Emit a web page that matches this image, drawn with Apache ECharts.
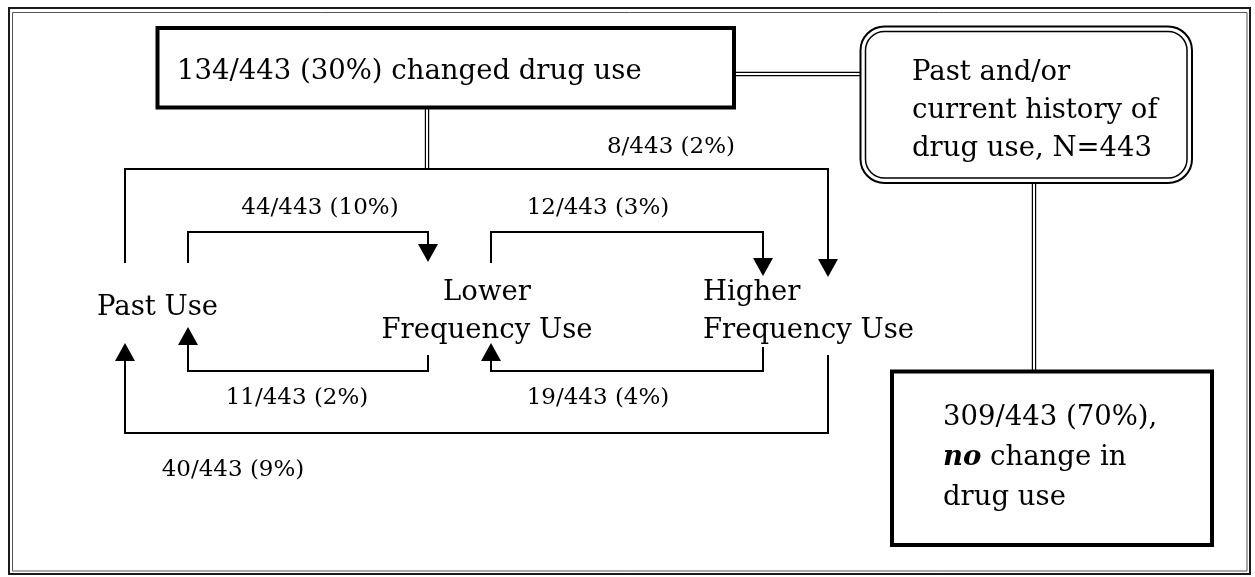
<!DOCTYPE html>
<html>
<head>
<meta charset="utf-8">
<title>Changes in drug use</title>
<script src="https://cdn.jsdelivr.net/npm/echarts@6/dist/echarts.min.js"></script>
<style>
  html, body { margin: 0; padding: 0; background: #fff; }
  #flow { width: 1255px; height: 577px; }
</style>
</head>
<body>
<div id="flow"></div>
<script>
// values
const totalN = 443;
const outcomeNames = ['changed drug use', 'no change in drug use'];
const outcomeCounts = [134, 309];
const outcomePcts = [30, 70];
const stateNames = ['Past Use', 'Lower\nFrequency Use', 'Higher\nFrequency Use'];
const flowFrom = [0, 1, 1, 2, 0, 2];
const flowTo = [1, 2, 0, 1, 2, 0];
const flowCounts = [44, 12, 11, 19, 8, 40];
const flowPcts = [10, 3, 2, 4, 2, 9];

// layout, in axis units (1 unit = 1 px of the page)
const flowPaths = [
  [[188, 263], [188, 232], [428, 232], [428, 262]],
  [[491, 263], [491, 232], [763, 232], [763, 276]],
  [[428, 355], [428, 371], [188, 371], [188, 327]],
  [[763, 347], [763, 371], [491, 371], [491, 343]],
  [[125, 263], [125, 169], [828, 169], [828, 277]],
  [[828, 355], [828, 433], [125, 433], [125, 343]]
];
const flowLabelAt = [[320, 208.5], [598, 208.5], [297, 398], [598, 398], [671, 147], [233, 470]];
const stateAt = [[97, 307.5, 'left'], [487, 292.5, 'center'], [703, 292.5, 'left']];
const boxes = [
  [157.5, 28, 734, 107.5],   // changed
  [892, 371.5, 1212, 545],   // no change
  [860.5, 26.5, 1192, 183]   // whole sample (rounded)
];
const doubleLinks = [
  [[734, 74], [860, 74]],
  [[427, 108], [427, 169]],
  [[1034, 183], [1034, 371.5]]
];

const FONT = 'DejaVu Serif';
const BIG = 27.5, SMALL = 23, LINE = 38;

const frac = (n, p) => n + '/' + totalN + ' (' + p + '%)';

// text lines: [x, y, text, align, size, rich]
const texts = [];
texts.push([177, 71.5, frac(outcomeCounts[0], outcomePcts[0]) + ' ' + outcomeNames[0], 'left', BIG]);
['Past and/or', 'current history of', 'drug use, N=' + totalN].forEach((t, k) => {
  texts.push([912, 72.5 + k * LINE, t, 'left', BIG]);
});
texts.push([943, 417.5, frac(outcomeCounts[1], outcomePcts[1]) + ',', 'left', BIG]);
texts.push([943, 457.5, '{b|no} change in', 'left', BIG, true]);
texts.push([943, 497.5, 'drug use', 'left', BIG]);
stateNames.forEach((name, s) => {
  name.split('\n').forEach((t, k) => {
    texts.push([stateAt[s][0], stateAt[s][1] + k * LINE, t, stateAt[s][2], BIG]);
  });
});
// put the single-line state on the right row
texts.forEach(t => { if (t[2] === 'Past Use') t[1] = 307.5; });

function rectOf(api, b) {
  const a = api.coord([b[0], b[1]]);
  const c = api.coord([b[2], b[3]]);
  return { x: a[0], y: a[1], width: c[0] - a[0], height: c[1] - a[1] };
}

function renderFrame(params, api) {
  const outer = rectOf(api, [9, 8, 1250, 574]);
  const inner = rectOf(api, [12.5, 12.5, 1247, 571]);
  return {
    type: 'group',
    children: [
      { type: 'rect', shape: outer, style: { fill: 'none', stroke: '#1a1a1a', lineWidth: 2 } },
      { type: 'rect', shape: inner, style: { fill: 'none', stroke: '#555', lineWidth: 1 } }
    ]
  };
}

function renderBox(params, api) {
  const i = params.dataIndex;
  const r = rectOf(api, boxes[i]);
  if (i < 2) {
    return { type: 'rect', shape: r, style: { fill: 'none', stroke: '#000', lineWidth: 4 } };
  }
  const inner = { x: r.x + 5, y: r.y + 5, width: r.width - 10, height: r.height - 10, r: 19 };
  r.r = 24;
  return {
    type: 'group',
    children: [
      { type: 'rect', shape: r, style: { fill: 'none', stroke: '#000', lineWidth: 2 } },
      { type: 'rect', shape: inner, style: { fill: 'none', stroke: '#000', lineWidth: 1.5 } }
    ]
  };
}

function renderDouble(params, api) {
  const seg = doubleLinks[params.dataIndex];
  const p = api.coord(seg[0]), q = api.coord(seg[1]);
  const horiz = Math.abs(q[0] - p[0]) > Math.abs(q[1] - p[1]);
  const o = 1.6;
  const off = horiz ? [0, o] : [o, 0];
  const mk = s => ({
    type: 'line',
    shape: { x1: p[0] + s * off[0], y1: p[1] + s * off[1], x2: q[0] + s * off[0], y2: q[1] + s * off[1] },
    style: { stroke: '#000', lineWidth: 1.2 }
  });
  return { type: 'group', children: [mk(-1), mk(1)] };
}

function renderFlow(params, api) {
  const i = params.dataIndex;
  const pts = flowPaths[i].map(p => api.coord(p));
  const n = pts.length;
  const tip = pts[n - 1], prev = pts[n - 2];
  const dx = tip[0] - prev[0], dy = tip[1] - prev[1];
  const len = Math.hypot(dx, dy);
  const ux = dx / len, uy = dy / len;
  const head = 18, half = 10;
  const base = [tip[0] - ux * head, tip[1] - uy * head];
  const lab = api.coord([api.value(0), api.value(1)]);
  return {
    type: 'group',
    children: [
      { type: 'polyline', shape: { points: pts.slice(0, n - 1).concat([base]) },
        style: { fill: 'none', stroke: '#000', lineWidth: 2 } },
      { type: 'polygon',
        shape: { points: [tip, [base[0] - uy * half, base[1] + ux * half], [base[0] + uy * half, base[1] - ux * half]] },
        style: { fill: '#000', stroke: 'none' } },
      { type: 'text', x: lab[0], y: lab[1],
        style: { text: frac(flowCounts[i], flowPcts[i]), fill: '#000', fontSize: SMALL, fontFamily: FONT,
                 align: 'center', verticalAlign: 'middle' } }
    ]
  };
}

function renderText(params, api) {
  const d = texts[params.dataIndex];
  const p = api.coord([api.value(0), api.value(1)]);
  const style = { text: d[2], fill: '#000', fontSize: d[4], fontFamily: FONT, align: d[3], verticalAlign: 'middle' };
  if (d[5]) {
    style.rich = { b: { fontSize: d[4], fontFamily: FONT, fontStyle: 'italic', fontWeight: 'bold', fill: '#000' } };
  }
  return { type: 'text', x: p[0], y: p[1], style: style };
}

const chart = echarts.init(document.getElementById('flow'));
chart.setOption({
  animation: false,
  backgroundColor: '#fff',
  grid: { left: 0, right: 0, top: 0, bottom: 0 },
  xAxis: { type: 'value', min: 0, max: 1255, show: false },
  yAxis: { type: 'value', min: 0, max: 577, inverse: true, show: false },
  series: [
    { type: 'custom', name: 'frame', renderItem: renderFrame, data: [[0, 0]], silent: true },
    { type: 'custom', name: 'boxes', renderItem: renderBox,
      data: boxes.map(b => [b[0], b[1]]), silent: true },
    { type: 'custom', name: 'links', renderItem: renderDouble,
      data: doubleLinks.map(s => s[0]), silent: true },
    { type: 'custom', name: 'flows', renderItem: renderFlow,
      data: flowCounts.map((c, i) => [flowLabelAt[i][0], flowLabelAt[i][1], c, flowFrom[i], flowTo[i]]), silent: true },
    { type: 'custom', name: 'texts', renderItem: renderText,
      data: texts.map(t => [t[0], t[1]]), silent: true }
  ]
});
</script>
</body>
</html>
